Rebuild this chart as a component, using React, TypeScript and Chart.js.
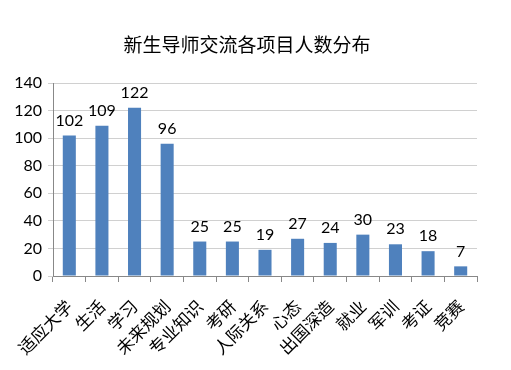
import React, { useEffect, useRef } from "react";
import { Chart, registerables } from "chart.js";

Chart.register(...registerables);

const titleText = "新生导师交流各项目人数分布";
const categories = ["适应大学", "生活", "学习", "未来规划", "专业知识", "考研", "人际关系", "心态", "出国深造", "就业", "军训", "考证", "竞赛"];
const values = [102, 109, 122, 96, 25, 25, 19, 27, 24, 30, 23, 18, 7];
const yTicks = [0, 20, 40, 60, 80, 100, 120, 140];

const valueLabels = {
  id: "valueLabels",
  afterDatasetsDraw(chart: any) {
    const ctx = chart.ctx;
    const meta = chart.getDatasetMeta(0);
    ctx.save();
    ctx.font = "16px Lato, 'Open Sans', sans-serif";
    ctx.fillStyle = "#000";
    ctx.textAlign = "center";
    ctx.textBaseline = "bottom";
    meta.data.forEach((bar: any, i: number) => {
      ctx.fillText(String(values[i]), bar.x, bar.y - 7);
    });
    ctx.restore();
  },
};

const titleDraw = {
  id: "titleDraw",
  afterDraw(chart: any) {
    const ctx = chart.ctx;
    ctx.save();
    ctx.font = "19px 'Noto Sans CJK SC'";
    ctx.fillStyle = "#000";
    ctx.textAlign = "center";
    ctx.textBaseline = "middle";
    ctx.fillText(titleText, 247, 45);
    ctx.restore();
  },
};

export default function App() {
  const ref = useRef<HTMLCanvasElement>(null);
  useEffect(() => {
    document.body.style.margin = "0";
    const chart = new Chart(ref.current!, {
      type: "bar",
      data: {
        labels: categories,
        datasets: [
          {
            data: values,
            backgroundColor: "#4f81bd",
            borderWidth: 0,
            barPercentage: 0.4,
            categoryPercentage: 1,
          },
        ],
      },
      options: {
        animation: false,
        responsive: false,
        layout: { padding: { left: 0, right: 34, top: 83, bottom: 0 } },
        plugins: {
          legend: { display: false },
          tooltip: { enabled: false },
          title: { display: false },
        },
        scales: {
          x: {
            grid: { display: true, offset: true, drawOnChartArea: false, tickLength: 6, color: "#888" },
            border: { color: "#888" },
            ticks: {
              color: "#000",
              font: { family: "'Noto Sans CJK SC'", size: 17 },
              maxRotation: 45,
              minRotation: 45,
              autoSkip: false,
              padding: 14,
            },
            afterFit(scale: any) {
              scale.height = 94;
            },
          },
          y: {
            min: 0,
            max: 140,
            afterBuildTicks(scale: any) {
              scale.ticks = yTicks.map((v) => ({ value: v }));
            },
            grid: { color: "#d0d0d0", tickLength: 5 },
            border: { color: "#888" },
            ticks: {
              color: "#000",
              font: { family: "Lato, 'Open Sans', sans-serif", size: 16 },
              padding: 6,
            },
            afterFit(scale: any) {
              scale.width = 53;
            },
          },
        },
      },
      plugins: [valueLabels, titleDraw],
    });
    return () => chart.destroy();
  }, []);
  return (
    <div style={{ width: 511, height: 370 }}>
      <canvas ref={ref} width={511} height={370} />
    </div>
  );
}
